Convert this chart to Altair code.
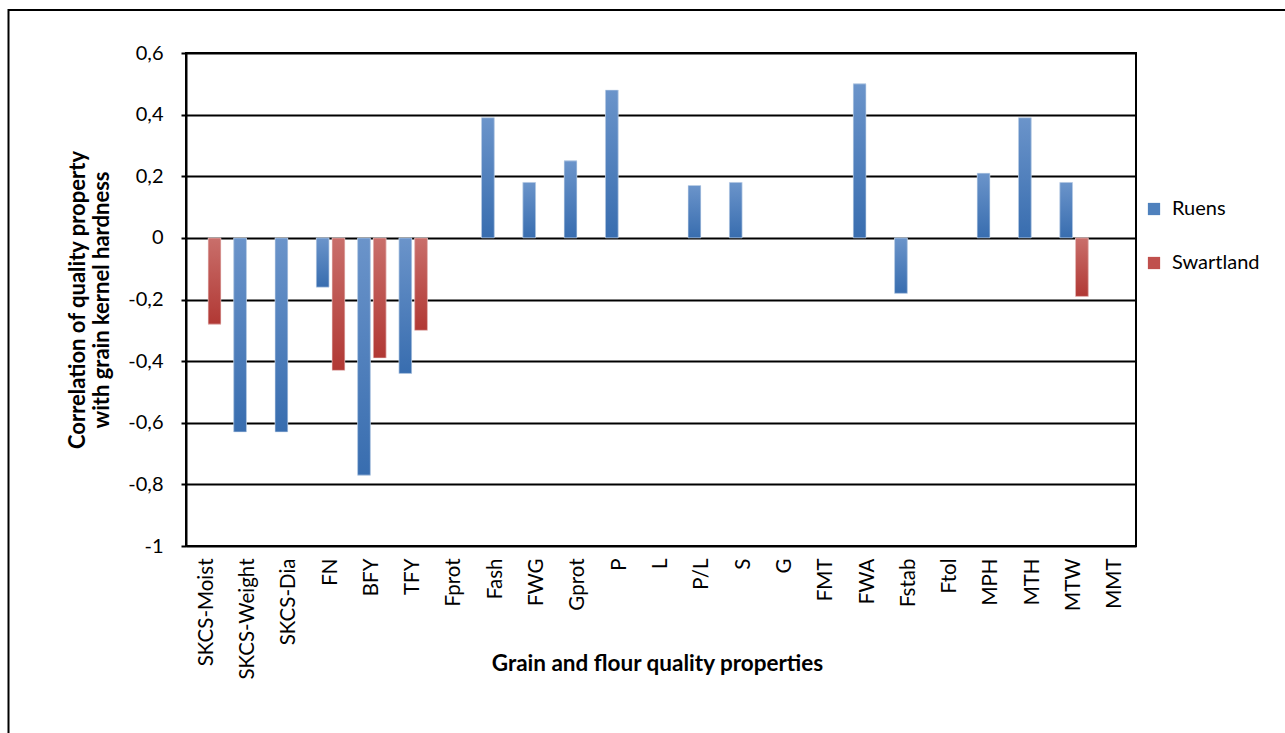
import altair as alt
import pandas as pd

# Grain and flour quality properties (category axis order)
properties = [
    "SKCS-Moist", "SKCS-Weight", "SKCS-Dia", "FN", "BFY", "TFY", "Fprot",
    "Fash", "FWG", "Gprot", "P", "L", "P/L", "S", "G", "FMT", "FWA",
    "Fstab", "Ftol", "MPH", "MTH", "MTW", "MMT",
]

# Correlation with grain kernel hardness (None = not significant / not shown)
ruens = [
    None, -0.63, -0.63, -0.16, -0.77, -0.44, None,
    0.39, 0.18, 0.25, 0.48, None, 0.17, 0.18, None, None, 0.50,
    -0.18, None, 0.21, 0.39, 0.18, None,
]
swartland = [
    -0.28, None, None, -0.43, -0.39, -0.30, None,
    None, None, None, None, None, None, None, None, None, None,
    None, None, None, None, -0.19, None,
]

series = ["Ruens", "Swartland"]
y_ticks = [-1, -0.8, -0.6, -0.4, -0.2, 0, 0.2, 0.4, 0.6]

rows = []
for name, vals in zip(series, [ruens, swartland]):
    for prop, v in zip(properties, vals):
        if v is not None:
            rows.append({"Property": prop, "Series": name, "Value": v})
df = pd.DataFrame(rows)

FONT = "Lato"
W, H = 950, 493

x_enc = alt.X(
    "Property:N",
    sort=properties,
    scale=alt.Scale(domain=properties, paddingInner=0.31, paddingOuter=0.155),
    axis=alt.Axis(
        title="Grain and flour quality properties",
        labelAngle=270,
        labelAlign="right",
        labelBaseline="middle",
        labelPadding=12,
        labelFont=FONT,
        labelFontSize=20.5,
        labelColor="black",
        ticks=False,
        domain=False,
        grid=False,
        titleFont=FONT,
        titleFontSize=22.5,
        titleFontWeight="bold",
        titleColor="black",
        titleBaseline="middle",
        titleX=W / 2 - 4,
        titleY=117,
    ),
)

y_enc = alt.Y(
    "Value:Q",
    scale=alt.Scale(domain=[-1, 0.6], nice=False),
    axis=alt.Axis(
        values=y_ticks,
        title=["Correlation of quality property", "with grain kernel hardness"],
        labelExpr="replace(replace(format(datum.value, '.1~f'), '.', ','), '\u2212', '-')",
        labelFont=FONT,
        labelFontSize=20,
        labelColor="black",
        labelPadding=18,
        tickSize=5,
        tickColor="black",
        tickWidth=2,
        domainColor="black",
        domainWidth=2,
        grid=True,
        gridColor="black",
        gridWidth=2,
        gridOpacity=1,
        titleFont=FONT,
        titleFontSize=22,
        titleFontWeight="bold",
        titleColor="black",
        titleAngle=270,
        titleAlign="center",
        titleBaseline="middle",
        titleLineHeight=24,
        titleX=-109,
        titleY=H / 2,
    ),
)

xoff = alt.XOffset("Series:N", scale=alt.Scale(domain=series, paddingInner=0.19))

# Solid bars carry the legend
base = alt.Chart(df).mark_bar().encode(
    x=x_enc,
    y=y_enc,
    xOffset=xoff,
    color=alt.Color(
        "Series:N",
        scale=alt.Scale(domain=series, range=["#4f81bd", "#c0504d"]),
        legend=alt.Legend(
            title=None,
            orient="none",
            legendX=958,
            legendY=146,
            symbolType="square",
            symbolSize=150,
            symbolStrokeWidth=0,
            labelFont=FONT,
            labelFontSize=20,
            labelColor="black",
            rowPadding=34,
            labelOffset=8,
        ),
    ),
)


def gradient_layer(name, top, bottom):
    return (
        alt.Chart(df)
        .transform_filter(alt.datum.Series == name)
        .mark_bar(
            fill=alt.Gradient(
                gradient="linear",
                stops=[
                    alt.GradientStop(color=top, offset=0),
                    alt.GradientStop(color=bottom, offset=1),
                ],
                x1=0, x2=0, y1=0, y2=1,
            ),
            stroke="#dbe5f1" if name == "Ruens" else "#f2dcdb",
            strokeWidth=0.6,
        )
        .encode(x=alt.X("Property:N", sort=properties), y="Value:Q", xOffset="Series:N")
    )


ruens_bars = gradient_layer("Ruens", "#6b94ca", "#386daf")
swart_bars = gradient_layer("Swartland", "#c96f6b", "#b13834")

# Frame around the whole figure
frame = alt.Chart(pd.DataFrame({"f": [0]})).mark_rect(
    filled=False, stroke="black", strokeWidth=2
).encode(
    x=alt.value(-177.5),
    x2=alt.value(1300 - 186),
    y=alt.value(-43),
    y2=alt.value(733 - 53 + 20),
)

chart = (
    alt.layer(base, ruens_bars, swart_bars, frame)
    .properties(
        width=W,
        height=H,
        autosize=alt.AutoSizeParams(type="none"),
        padding={"left": 186, "top": 53, "right": 1285 - 186 - W, "bottom": 733 - 53 - H},
        background="white",
    )
    .configure_view(stroke="black", strokeWidth=2)
)

chart.save("out.html", embed_options={"renderer": "svg", "actions": False})
